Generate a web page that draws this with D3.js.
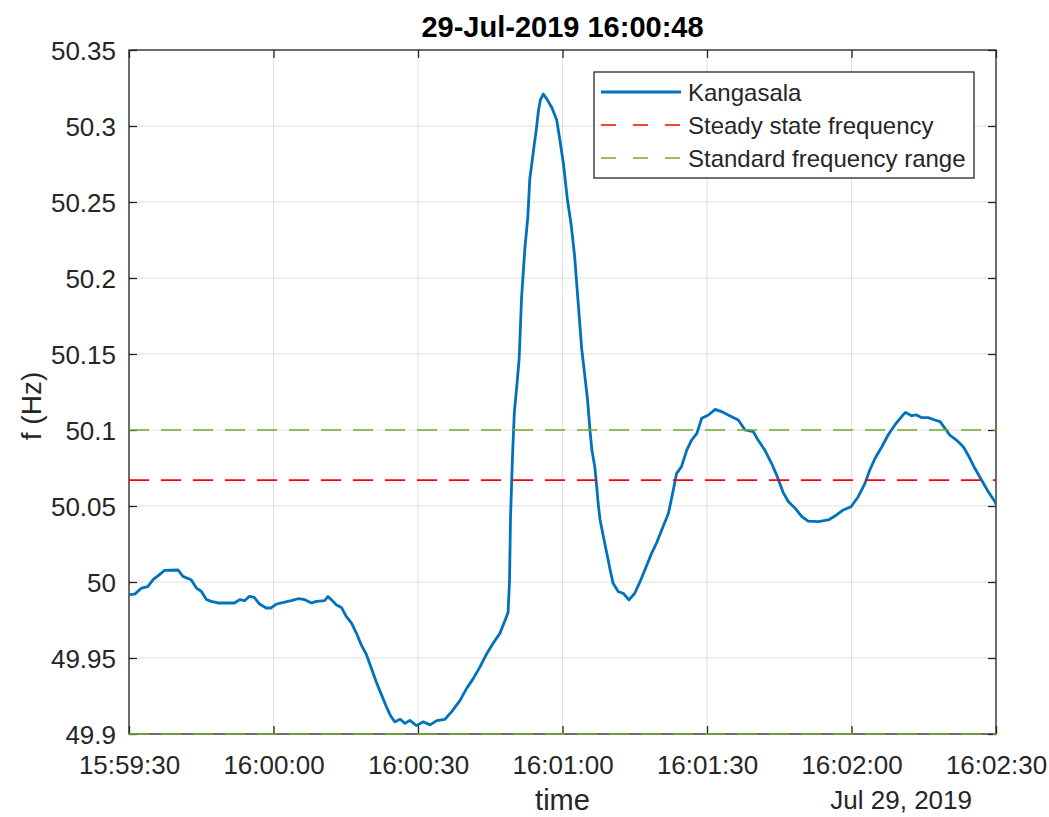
<!DOCTYPE html>
<html>
<head>
<meta charset="utf-8">
<script src="https://cdn.jsdelivr.net/npm/d3@7"></script>
<style>
  body { margin: 0; background: #fff; }
  text { font-family: "Liberation Sans", Arial, sans-serif; }
</style>
</head>
<body>
<div id="chart"></div>
<script>
// data (seconds after 15:59:30, frequency in Hz)
var secs = [0,1.2,2.6,3.9,5.0,6.4,7.4,10.2,11.2,12.9,14.0,15.0,16.1,17.1,18.5,21.9,23.0,24.0,25.0,26.0,
  27.1,28.5,29.5,30.6,32.3,33.7,35.1,36.5,37.9,38.9,40.6,41.3,42.0,43.0,44.1,45.1,46.2,47.2,48.2,49.3,
  50.3,51.3,52.4,53.4,54.3,55.2,56.3,57.3,58.3,59.7,61.1,62.5,63.9,65.6,67.0,68.7,70.1,71.5,72.9,74.3,
  75.6,77.0,78.1,78.7,79.0,79.2,79.6,80.0,80.6,81.0,81.5,82.2,82.8,83.2,83.7,84.1,84.5,85.0,85.4,86.0,
  86.7,87.8,88.8,89.5,90.2,91.0,91.8,92.5,93.2,94.0,95.2,95.7,96.1,96.7,97.1,97.4,97.8,98.5,99.2,99.9,
  100.5,101.6,102.6,103.8,105.0,106.1,107.1,108.5,109.5,110.6,112.0,113.0,113.7,114.7,115.8,116.8,117.9,118.9,120.3,121.7,
  123.0,124.8,126.5,127.9,129.6,130.6,132.0,133.4,134.5,135.8,136.9,138.3,139.7,141.0,143.1,145.2,146.9,148.3,149.9,151.4,
  152.8,153.8,154.9,156.3,157.6,159.0,160.4,161.2,162.5,163.5,164.6,165.9,167.3,168.4,169.4,170.4,171.8,173.2,174.2,175.6,
  177.0,178.4,179.8,180];
var freq = [49.9917,49.992,49.996,49.997,50.0015,50.005,50.0077,50.0079,50.0037,50.0015,49.996,49.9939,49.9884,49.9873,49.9862,49.9862,49.9884,49.9877,49.9906,49.9899,
  49.9855,49.9829,49.9829,49.9855,49.9868,49.9877,49.989,49.9884,49.9862,49.9873,49.9877,49.9904,49.9884,49.9851,49.9833,49.9774,49.973,49.9664,49.9588,49.9522,
  49.9434,49.9346,49.9259,49.9182,49.912,49.908,49.9097,49.907,49.909,49.9055,49.908,49.906,49.9088,49.9097,49.9147,49.922,49.930,49.9366,49.9443,49.953,
  49.9597,49.9662,49.975,49.980,50.0003,50.0415,50.081,50.1115,50.132,50.147,50.187,50.22,50.24,50.265,50.277,50.287,50.296,50.31,50.317,50.321,
  50.318,50.312,50.304,50.29,50.275,50.252,50.235,50.215,50.186,50.153,50.12,50.1,50.0868,50.0759,50.0627,50.0518,50.0408,50.0298,50.0189,50.0079,
  49.9991,49.9936,49.9926,49.9882,49.9926,50.0002,50.0079,50.0189,50.0255,50.0342,50.0452,50.0605,50.0715,50.0759,50.0868,50.0934,50.0978,50.1077,50.1099,50.1136,
  50.1121,50.1092,50.1066,50.1,50.0989,50.0934,50.0868,50.0781,50.07,50.059,50.0528,50.0485,50.043,50.0401,50.0397,50.0408,50.0441,50.0474,50.0495,50.0561,
  50.0649,50.0737,50.0814,50.089,50.0967,50.1033,50.1088,50.1116,50.1094,50.1099,50.1081,50.1081,50.1066,50.1055,50.1011,50.0967,50.0934,50.089,50.0836,50.0748,
  50.0671,50.0594,50.0528,50.051];

var steady_freq = [50.067];
var standard_range = [49.9, 50.1];

var y_ticks = [49.9,49.95,50,50.05,50.1,50.15,50.2,50.25,50.3,50.35];
var y_tick_labels = ["49.9","49.95","50","50.05","50.1","50.15","50.2","50.25","50.3","50.35"];
var x_tick_labels = ["15:59:30","16:00:00","16:00:30","16:01:00","16:01:30","16:02:00","16:02:30"];
var legend_labels = ["Kangasala","Steady state frequency","Standard frequency range"];

var title_text = "29-Jul-2019 16:00:48";
var date_text = "Jul 29, 2019";

// svg properties
var width = 1049;
var height = 817;
var plot_left = 129;
var plot_right = 996;
var plot_top = 50;
var plot_bottom = 734;
var axis_color = "#262626";
var tick_len = 8;

var t0 = new Date(2019, 6, 29, 15, 59, 30);
function to_time(s) { return new Date(t0.getTime() + s * 1000); }
function parse_tick(str) {
    var p = str.split(":");
    return new Date(2019, 6, 29, +p[0], +p[1], +p[2]);
}
var x_ticks = x_tick_labels.map(parse_tick);

var svg = d3.select("#chart")
            .append("svg")
            .attr("width", width)
            .attr("height", height);

var scale_x = d3.scaleTime()
            .domain([x_ticks[0], x_ticks[x_ticks.length - 1]])
            .range([plot_left, plot_right]);
var scale_y = d3.scaleLinear()
            .domain([49.9, 50.35])
            .range([plot_bottom, plot_top]);

// grid
svg.append("g")
    .selectAll("line")
    .data(x_ticks)
    .enter()
    .append("line")
    .attr("x1", function(d){ return scale_x(d); })
    .attr("x2", function(d){ return scale_x(d); })
    .attr("y1", plot_top)
    .attr("y2", plot_bottom)
    .attr("stroke", "#dfdfdf")
    .attr("stroke-width", 1);

svg.append("g")
    .selectAll("line")
    .data(y_ticks)
    .enter()
    .append("line")
    .attr("x1", plot_left)
    .attr("x2", plot_right)
    .attr("y1", function(d){ return scale_y(d); })
    .attr("y2", function(d){ return scale_y(d); })
    .attr("stroke", "#dfdfdf")
    .attr("stroke-width", 1);

// box
svg.append("rect")
    .attr("x", plot_left)
    .attr("y", plot_top)
    .attr("width", plot_right - plot_left)
    .attr("height", plot_bottom - plot_top)
    .attr("fill", "none")
    .attr("stroke", axis_color)
    .attr("stroke-width", 1.3);

// ticks, inside on all four sides
var x_axis_bottom = d3.axisBottom(scale_x).tickValues(x_ticks)
    .tickSizeInner(-tick_len).tickSizeOuter(0)
    .tickFormat(function(d, i){ return x_tick_labels[i]; })
    .tickPadding(22);
var gx = svg.append("g")
    .attr("transform", "translate(0," + plot_bottom + ")")
    .call(x_axis_bottom);
var x_axis_top = d3.axisTop(scale_x).tickValues(x_ticks)
    .tickSizeInner(-tick_len).tickSizeOuter(0).tickFormat("");
var gxt = svg.append("g")
    .attr("transform", "translate(0," + plot_top + ")")
    .call(x_axis_top);

var y_axis_left = d3.axisLeft(scale_y).tickValues(y_ticks)
    .tickSizeInner(-tick_len).tickSizeOuter(0)
    .tickFormat(function(d, i){ return y_tick_labels[i]; })
    .tickPadding(13);
var gy = svg.append("g")
    .attr("transform", "translate(" + plot_left + ",0)")
    .call(y_axis_left);
var y_axis_right = d3.axisRight(scale_y).tickValues(y_ticks)
    .tickSizeInner(-tick_len).tickSizeOuter(0).tickFormat("");
var gyr = svg.append("g")
    .attr("transform", "translate(" + plot_right + ",0)")
    .call(y_axis_right);

[gx, gxt, gy, gyr].forEach(function(g){
    g.select(".domain").remove();
    g.selectAll(".tick line").attr("stroke", axis_color).attr("stroke-width", 1.3);
    g.selectAll("text")
        .attr("fill", axis_color)
        .attr("font-size", 26)
        .attr("font-family", "'Liberation Sans', Arial, sans-serif");
});
gx.selectAll("text").attr("dy", "0.71em");
gy.selectAll("text").attr("dy", "0.36em");

// clip for data lines
svg.append("clipPath")
    .attr("id", "plot_clip")
    .append("rect")
    .attr("x", plot_left)
    .attr("y", plot_top - 2)
    .attr("width", plot_right - plot_left)
    .attr("height", plot_bottom - plot_top + 4);

// frequency curve
var line = d3.line()
    .x(function(d){ return scale_x(to_time(d[0])); })
    .y(function(d){ return scale_y(d[1]); });

svg.append("path")
    .datum(d3.zip(secs, freq))
    .attr("clip-path", "url(#plot_clip)")
    .attr("d", line)
    .attr("fill", "none")
    .attr("stroke", "#0072bd")
    .attr("stroke-width", 2.8)
    .attr("stroke-linejoin", "round");

// reference lines
svg.append("g")
    .selectAll("line")
    .data(steady_freq)
    .enter()
    .append("line")
    .attr("x1", plot_left)
    .attr("x2", plot_right)
    .attr("y1", function(d){ return scale_y(d); })
    .attr("y2", function(d){ return scale_y(d); })
    .attr("stroke", "#ff0000")
    .attr("stroke-width", 1.6)
    .attr("stroke-dasharray", "20,12");

svg.append("g")
    .selectAll("line")
    .data(standard_range)
    .enter()
    .append("line")
    .attr("x1", plot_left)
    .attr("x2", plot_right)
    .attr("y1", function(d){ return scale_y(d); })
    .attr("y2", function(d){ return scale_y(d); })
    .attr("stroke", "#77ac30")
    .attr("stroke-width", 1.6)
    .attr("stroke-dasharray", "20,12");

// title and labels
svg.append("text")
    .text(title_text)
    .attr("x", (plot_left + plot_right) / 2)
    .attr("y", 37)
    .attr("text-anchor", "middle")
    .attr("font-size", 29)
    .attr("font-weight", "bold")
    .attr("fill", "#000");

svg.append("text")
    .text("time")
    .attr("x", (plot_left + plot_right) / 2)
    .attr("y", 810)
    .attr("text-anchor", "middle")
    .attr("font-size", 29)
    .attr("fill", axis_color);

svg.append("text")
    .text(date_text)
    .attr("x", 972)
    .attr("y", 809)
    .attr("text-anchor", "end")
    .attr("font-size", 26)
    .attr("fill", axis_color);

svg.append("text")
    .text("f (Hz)")
    .attr("transform", "translate(41,406) rotate(-90)")
    .attr("text-anchor", "middle")
    .attr("font-size", 28)
    .attr("fill", axis_color);

// legend
var legend_x = 594;
var legend_y = 72;
var legend_w = 380;
var legend_h = 106;
var legend_row = 33;
var legend_colors = ["#0072bd", "#ff0000", "#77ac30"];
var legend_dash = [null, "15,17", "15,17"];
var legend_sw = [2.8, 1.6, 1.6];

svg.append("rect")
    .attr("x", legend_x)
    .attr("y", legend_y)
    .attr("width", legend_w)
    .attr("height", legend_h)
    .attr("fill", "#fff")
    .attr("stroke", axis_color)
    .attr("stroke-width", 1.3);

var legend_items = svg.append("g")
    .selectAll("g")
    .data(legend_labels)
    .enter()
    .append("g")
    .attr("transform", function(d, i){
        return "translate(" + legend_x + "," + (legend_y + 20 + i * legend_row) + ")";
    });

legend_items.append("line")
    .attr("x1", 7)
    .attr("x2", 87)
    .attr("y1", 0)
    .attr("y2", 0)
    .attr("stroke", function(d, i){ return legend_colors[i]; })
    .attr("stroke-width", function(d, i){ return legend_sw[i]; })
    .attr("stroke-dasharray", function(d, i){ return legend_dash[i]; });

legend_items.append("text")
    .text(function(d){ return d; })
    .attr("x", 94)
    .attr("y", 0)
    .attr("dy", "0.36em")
    .attr("font-size", 24)
    .attr("fill", axis_color);
</script>
</body>
</html>
